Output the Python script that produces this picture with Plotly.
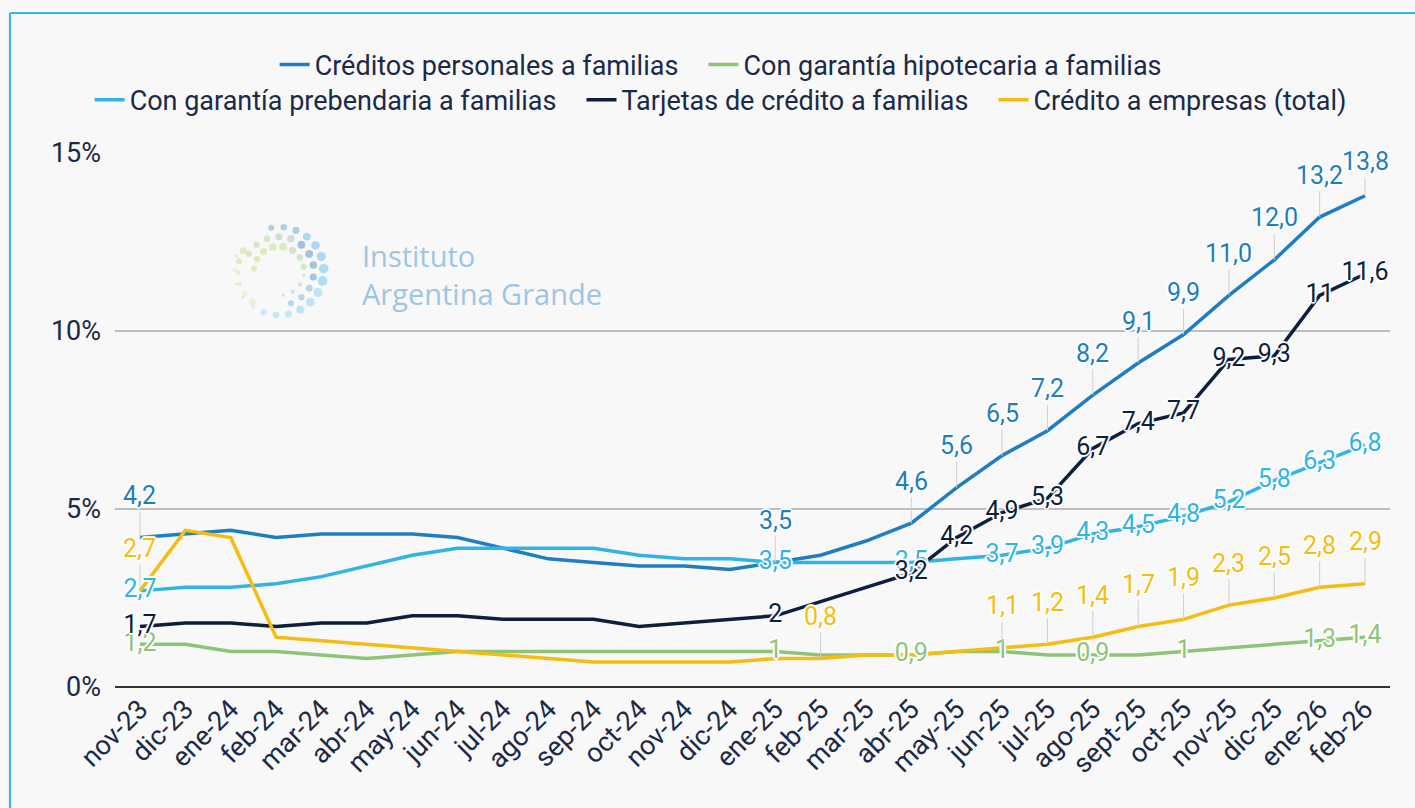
import math
import plotly.graph_objects as go

# ---------------- data ----------------
months = ["nov-23", "dic-23", "ene-24", "feb-24", "mar-24", "abr-24", "may-24", "jun-24",
          "jul-24", "ago-24", "sep-24", "oct-24", "nov-24", "dic-24", "ene-25", "feb-25",
          "mar-25", "abr-25", "may-25", "jun-25", "jul-25", "ago-25", "sept-25", "oct-25",
          "nov-25", "dic-25", "ene-26", "feb-26"]

personales = [4.2, 4.3, 4.4, 4.2, 4.3, 4.3, 4.3, 4.2, 3.9, 3.6, 3.5, 3.4, 3.4, 3.3,
              3.5, 3.7, 4.1, 4.6, 5.6, 6.5, 7.2, 8.2, 9.1, 9.9, 11.0, 12.0, 13.2, 13.8]
hipotecaria = [1.2, 1.2, 1.0, 1.0, 0.9, 0.8, 0.9, 1.0, 1.0, 1.0, 1.0, 1.0, 1.0, 1.0,
               1.0, 0.9, 0.9, 0.9, 1.0, 1.0, 0.9, 0.9, 0.9, 1.0, 1.1, 1.2, 1.3, 1.4]
prendaria = [2.7, 2.8, 2.8, 2.9, 3.1, 3.4, 3.7, 3.9, 3.9, 3.9, 3.9, 3.7, 3.6, 3.6,
             3.5, 3.5, 3.5, 3.5, 3.6, 3.7, 3.9, 4.3, 4.5, 4.8, 5.2, 5.8, 6.3, 6.8]
tarjetas = [1.7, 1.8, 1.8, 1.7, 1.8, 1.8, 2.0, 2.0, 1.9, 1.9, 1.9, 1.7, 1.8, 1.9,
            2.0, 2.4, 2.8, 3.2, 4.2, 4.9, 5.3, 6.7, 7.4, 7.7, 9.2, 9.3, 11.0, 11.6]
empresas = [2.7, 4.4, 4.2, 1.4, 1.3, 1.2, 1.1, 1.0, 0.9, 0.8, 0.7, 0.7, 0.7, 0.7,
            0.8, 0.8, 0.9, 0.9, 1.0, 1.1, 1.2, 1.4, 1.7, 1.9, 2.3, 2.5, 2.8, 2.9]

# indices of points that carry a data label
lab_personales = [0, 14, 17, 18, 19, 20, 21, 22, 23, 24, 25, 26, 27]
lab_hipotecaria = [0, 14, 17, 19, 21, 23, 26, 27]
lab_prendaria = [0, 14, 17, 19, 20, 21, 22, 23, 24, 25, 26, 27]
lab_tarjetas = [0, 14, 17, 18, 19, 20, 21, 22, 23, 24, 25, 26, 27]
lab_empresas = [0, 15, 19, 20, 21, 22, 23, 24, 25, 26, 27]

y_ticks = [0, 5, 10, 15]
y_ticktext = ["0%", "5%", "10%", "15%"]

names = ["Créditos personales a familias", "Con garantía hipotecaria a familias",
         "Con garantía prebendaria a familias", "Tarjetas de crédito a familias",
         "Crédito a empresas (total)"]

# ---------------- style ----------------
C_PERS = "#1F7DC1"
C_HIPO = "#8EC47A"
C_PREN = "#30B3E5"
C_TARJ = "#0D1F3D"
C_EMPR = "#F5BC12"
TXT = "#1B2A47"
BG = "#F8F8F8"
HALO = ("1px 1px 0 #fff, -1px -1px 0 #fff, 1px -1px 0 #fff, -1px 1px 0 #fff, "
        "0 2px 1px #fff, 0 -2px 1px #fff, 2px 0 1px #fff, -2px 0 1px #fff")
LABEL_SIZE = 25
GAP = "\u00a0" * 3  # spacing between legend entries


def fmt_fixed(v):
    return f"{v:.1f}".replace(".", ",")


def fmt_general(v):
    s = f"{v:.1f}"
    if s.endswith(".0"):
        s = s[:-2]
    return s.replace(".", ",")


fig = go.Figure()

series = [
    (names[0] + GAP, personales, C_PERS, "legend"),
    (names[1], hipotecaria, C_HIPO, "legend"),
    (names[2] + GAP, prendaria, C_PREN, "legend2"),
    (names[3] + GAP, tarjetas, C_TARJ, "legend2"),
    (names[4], empresas, C_EMPR, "legend2"),
]
for name, vals, col, lg in series:
    fig.add_trace(go.Scatter(x=months, y=vals, name=name, mode="lines",
                             line=dict(color=col, width=3.5), legend=lg,
                             hoverinfo="skip"))

# on-point labels
for vals, idx, col in [(hipotecaria, lab_hipotecaria, C_HIPO),
                       (prendaria, lab_prendaria, C_PREN),
                       (tarjetas, lab_tarjetas, C_TARJ)]:
    fig.add_trace(go.Scatter(
        x=[months[i] for i in idx], y=[vals[i] for i in idx],
        text=[fmt_general(vals[i]) for i in idx], mode="text",
        textposition="middle center", showlegend=False, hoverinfo="skip",
        textfont=dict(family="Roboto", size=LABEL_SIZE, color=col, shadow=HALO),
        cliponaxis=False))

# labels above with leader lines
annotations = []
for vals, idx, col, fmt in [(personales, lab_personales, C_PERS, fmt_fixed),
                            (empresas, lab_empresas, C_EMPR, fmt_general)]:
    for i in idx:
        lift = -34 if (vals is personales and i == len(months) - 1) else -42
        annotations.append(dict(
            x=months[i], y=vals[i], xref="x", yref="y", text=fmt(vals[i]),
            showarrow=True, arrowhead=0, arrowwidth=1, arrowcolor="#CFCFCF",
            ax=0, ay=lift, standoff=0,
            font=dict(family="Roboto", size=LABEL_SIZE, color=col, shadow=HALO)))

# logo text
annotations.append(dict(
    x=0.192, y=0.772, xref="paper", yref="paper", xanchor="left", yanchor="middle",
    text="Instituto<br>Argentina Grande", showarrow=False, align="left",
    font=dict(family="Open Sans", size=29, color="#9DC6E4")))

# logo dots (decorative ring)
lx, ly, ls, lc = [], [], [], []


def arc(r, a0, a1, n, s0, s1, colors):
    for k in range(n):
        t = k / (n - 1)
        a = math.radians(a0 + (a1 - a0) * t)
        lx.append(r * math.cos(a))
        ly.append(r * math.sin(a))
        ls.append(s0 + (s1 - s0) * (1 - abs(2 * t - 1)) if s1 != s0 else s0)
        lc.append(colors[min(int(t * len(colors)), len(colors) - 1)])


arc(1.0, 100, -110, 14, 6, 10, ["#93BCDD", "#8FCBEE", "#8FD3F0", "#A6DCF2", "#B2E1F4"])
arc(1.0, -125, -200, 5, 3, 3, ["#C5E6F3"])
arc(0.78, 150, -70, 12, 6, 8, ["#C9E0AE", "#BBD6C4", "#7FAED6", "#7EAFD6", "#9CC8E6"])
arc(0.56, 175, 10, 8, 6, 8, ["#D4E6A4", "#D0E4A8", "#C3DDB8"])
arc(0.92, 150, 230, 6, 7, 4, ["#D6E7A6", "#DDEBB2", "#E4EFC4"])
arc(0.56, -10, -80, 4, 3, 5, ["#B7D5E8"])
fig.add_trace(go.Scatter(x=lx, y=ly, xaxis="x2", yaxis="y2", mode="markers",
                         marker=dict(size=ls, color=lc, line=dict(width=0)),
                         showlegend=False, hoverinfo="skip"))

shapes = [
    dict(type="line", xref="paper", yref="paper", x0=-0.0824, x1=1.03, y0=1.262, y1=1.262,
         line=dict(color="#2BB8EC", width=2)),
    dict(type="line", xref="paper", yref="paper", x0=-0.0824, x1=-0.0824, y0=1.262, y1=-0.25,
         line=dict(color="#2BB8EC", width=2)),
]

fig.update_layout(
    width=1415, height=808,
    margin=dict(l=115, r=25, t=153, b=121, autoexpand=False),
    paper_bgcolor=BG, plot_bgcolor=BG,
    font=dict(family="Roboto", color=TXT),
    xaxis=dict(type="category", range=[-0.55, 27.55], showgrid=False, showline=False,
               zeroline=False, tickangle=-45, ticks="", automargin=False,
               tickfont=dict(family="Roboto", size=27, color=TXT)),
    yaxis=dict(range=[0, 15], tickvals=y_ticks, ticktext=y_ticktext,
               showgrid=True, gridcolor="#BEBEBE", gridwidth=2, automargin=False,
               zeroline=True, zerolinecolor="#333333", zerolinewidth=2,
               showline=False, ticks="", ticklabelstandoff=13,
               tickfont=dict(family="Roboto", size=27, color=TXT)),
    xaxis2=dict(domain=[0.0847, 0.1725], range=[-1.25, 1.25], visible=False,
                anchor="y2", fixedrange=True),
    yaxis2=dict(domain=[0.676, 0.882], range=[-1.25, 1.25], visible=False,
                anchor="x2", fixedrange=True),
    legend=dict(orientation="h", x=0.475, xanchor="center", y=1.165, yanchor="middle",
                bgcolor="rgba(0,0,0,0)", font=dict(family="Roboto", size=27, color=TXT)),
    legend2=dict(orientation="h", x=0.475, xanchor="center", y=1.099, yanchor="middle",
                 bgcolor="rgba(0,0,0,0)", font=dict(family="Roboto", size=27, color=TXT)),
    annotations=annotations,
    shapes=shapes,
    showlegend=True,
)

fig.write_html("out.html", config={"displayModeBar": False},
               post_script="document.body.style.margin='0';document.body.style.overflow='hidden';")
